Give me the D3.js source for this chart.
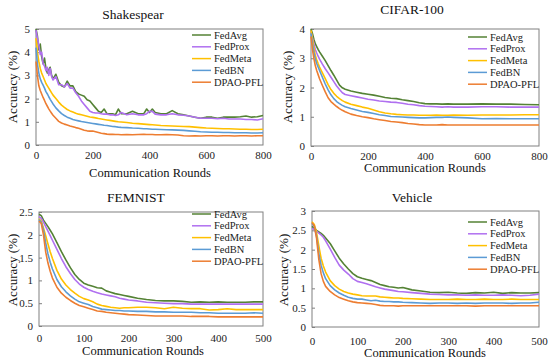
<!DOCTYPE html>
<html>
<head>
<meta charset="utf-8">
<script src="https://cdn.jsdelivr.net/npm/d3@7"></script>
<style>
  body { margin: 0; background: #fff; }
  svg { display: block; font-family: "Liberation Serif", "DejaVu Serif", serif; }
</style>
</head>
<body>
<svg id="chart" width="550" height="363"></svg>
<script>
const methods = ["FedAvg", "FedProx", "FedMeta", "FedBN", "DPAO-PFL"];
const colors = ["#548235", "#b070f0", "#ffc000", "#5b9bd5", "#ed7d31"];

// Shakespear
const shakeRounds = [0,5,10,15,20,25,30,35,40,45,50,55,60,70,80,90,100,110,120,130,140,150,160,170,180,190,200,210,220,230,240,250,260,270,280,290,300,320,340,360,380,390,400,410,420,440,460,480,500,520,540,560,580,600,620,640,660,680,700,720,740,760,780,800];
const shakeFedAvg = [5.0,4.7,4.1,4.35,3.8,3.5,3.75,3.3,3.1,3.25,3.35,3.0,2.85,3.05,2.7,2.55,2.5,2.75,2.55,2.55,2.3,2.2,2.15,2.1,1.95,1.9,1.75,1.6,1.45,1.4,1.55,1.35,1.35,1.35,1.3,1.55,1.35,1.35,1.45,1.35,1.35,1.55,1.4,1.55,1.4,1.35,1.35,1.48,1.35,1.3,1.25,1.2,1.15,1.2,1.2,1.15,1.2,1.2,1.2,1.22,1.25,1.2,1.22,1.27];
const shakeFedProx = [4.95,4.6,4.3,3.9,4.0,3.5,3.4,3.2,3.35,3.0,3.3,2.95,2.8,2.95,2.6,2.6,2.5,2.65,2.45,2.45,2.25,2.1,1.9,1.75,1.6,1.45,1.4,1.38,1.38,1.35,1.33,1.33,1.3,1.3,1.27,1.3,1.4,1.3,1.35,1.3,1.3,1.35,1.45,1.45,1.33,1.3,1.3,1.35,1.3,1.28,1.25,1.2,1.15,1.15,1.15,1.13,1.15,1.12,1.12,1.12,1.1,1.1,1.08,1.13];
const shakeFedMeta = [4.6,4.0,3.6,3.3,3.1,2.95,2.8,2.65,2.55,2.45,2.35,2.25,2.15,2.0,1.85,1.72,1.62,1.53,1.47,1.42,1.37,1.33,1.3,1.27,1.24,1.21,1.19,1.17,1.14,1.12,1.1,1.08,1.06,1.04,1.02,1.0,0.99,0.97,0.94,0.92,0.9,0.89,0.88,0.87,0.86,0.84,0.83,0.82,0.81,0.8,0.79,0.77,0.75,0.73,0.72,0.71,0.7,0.7,0.69,0.68,0.68,0.67,0.67,0.68];
const shakeFedBN = [4.2,3.5,3.1,2.85,2.7,2.58,2.45,2.3,2.2,2.08,1.97,1.87,1.77,1.6,1.47,1.35,1.27,1.2,1.15,1.1,1.07,1.04,1.01,0.99,0.97,0.95,0.93,0.91,0.89,0.87,0.85,0.84,0.82,0.8,0.79,0.77,0.76,0.75,0.73,0.72,0.7,0.7,0.69,0.68,0.68,0.67,0.66,0.65,0.64,0.63,0.61,0.59,0.57,0.56,0.55,0.55,0.54,0.54,0.53,0.53,0.53,0.52,0.52,0.53];
const shakeDPAO = [3.6,3.0,2.55,2.35,2.2,2.05,1.92,1.78,1.67,1.56,1.46,1.37,1.28,1.15,1.02,0.95,0.9,0.86,0.82,0.79,0.75,0.72,0.68,0.64,0.61,0.6,0.6,0.57,0.54,0.51,0.49,0.47,0.46,0.46,0.45,0.45,0.44,0.45,0.44,0.45,0.46,0.45,0.45,0.45,0.44,0.44,0.45,0.44,0.43,0.4,0.39,0.4,0.39,0.4,0.4,0.39,0.4,0.4,0.39,0.4,0.4,0.39,0.4,0.4];

// CIFAR-100
const cifarRounds = [0,5,10,15,20,25,30,40,50,60,70,80,90,100,110,120,140,160,180,200,220,240,260,280,300,320,340,360,380,400,420,440,460,480,500,550,600,650,700,750,800];
const cifarFedAvg = [4.0,3.85,3.65,3.5,3.4,3.3,3.22,3.07,2.92,2.75,2.58,2.42,2.25,2.08,1.99,1.94,1.88,1.84,1.8,1.77,1.74,1.7,1.66,1.63,1.62,1.58,1.55,1.52,1.48,1.45,1.44,1.44,1.43,1.44,1.43,1.43,1.44,1.43,1.43,1.42,1.41];
const cifarFedProx = [3.9,3.7,3.5,3.3,3.18,3.07,2.97,2.8,2.64,2.5,2.35,2.2,2.05,1.93,1.82,1.76,1.72,1.68,1.64,1.6,1.57,1.54,1.52,1.5,1.49,1.46,1.43,1.41,1.38,1.36,1.35,1.34,1.33,1.34,1.33,1.33,1.34,1.34,1.33,1.33,1.33];
const cifarFedMeta = [3.95,3.65,3.35,3.1,2.95,2.82,2.7,2.5,2.3,2.1,1.93,1.8,1.7,1.62,1.55,1.5,1.43,1.38,1.33,1.29,1.23,1.17,1.13,1.1,1.08,1.07,1.06,1.06,1.05,1.05,1.05,1.06,1.05,1.05,1.06,1.05,1.06,1.06,1.06,1.07,1.07];
const cifarFedBN = [3.85,3.5,3.2,2.98,2.82,2.7,2.58,2.35,2.12,1.92,1.75,1.62,1.52,1.45,1.39,1.34,1.28,1.23,1.18,1.15,1.11,1.07,1.04,1.01,1.0,0.99,0.98,0.97,0.96,0.96,0.97,0.98,0.98,0.99,0.98,0.96,0.93,0.94,0.93,0.93,0.93];
const cifarDPAO = [3.75,3.3,3.0,2.75,2.58,2.44,2.3,2.07,1.85,1.65,1.52,1.43,1.35,1.28,1.22,1.17,1.09,1.04,1.0,0.97,0.93,0.9,0.87,0.84,0.82,0.8,0.77,0.75,0.73,0.72,0.72,0.72,0.73,0.72,0.72,0.72,0.72,0.72,0.72,0.72,0.72];

// FEMNIST
const femRounds = [0,5,10,15,20,25,30,40,50,60,70,80,90,100,110,120,130,140,150,160,170,180,190,200,220,240,260,280,300,320,340,360,380,400,420,440,460,480,500];
const femFedAvg = [2.45,2.42,2.32,2.25,2.18,2.1,2.02,1.83,1.63,1.45,1.28,1.13,1.02,0.94,0.9,0.87,0.84,0.83,0.77,0.74,0.71,0.69,0.67,0.65,0.61,0.58,0.56,0.55,0.55,0.54,0.52,0.53,0.52,0.53,0.52,0.52,0.52,0.53,0.53];
const femFedProx = [2.4,2.36,2.28,2.18,2.08,1.98,1.88,1.68,1.48,1.3,1.15,1.02,0.92,0.85,0.8,0.76,0.73,0.7,0.68,0.66,0.64,0.61,0.59,0.57,0.55,0.52,0.51,0.5,0.49,0.49,0.48,0.48,0.48,0.48,0.48,0.48,0.48,0.48,0.48];
const femFedMeta = [2.35,2.3,2.15,1.98,1.8,1.63,1.48,1.22,1.03,0.9,0.8,0.72,0.65,0.6,0.57,0.53,0.48,0.45,0.43,0.41,0.4,0.39,0.4,0.4,0.41,0.41,0.4,0.38,0.41,0.39,0.38,0.38,0.35,0.36,0.38,0.36,0.36,0.36,0.36];
const femFedBN = [2.33,2.28,2.1,1.82,1.58,1.4,1.25,1.02,0.86,0.75,0.66,0.59,0.53,0.5,0.47,0.43,0.4,0.37,0.36,0.35,0.34,0.34,0.33,0.33,0.32,0.32,0.31,0.31,0.3,0.3,0.3,0.29,0.29,0.28,0.28,0.28,0.28,0.29,0.28];
const femDPAO = [2.3,2.25,2.0,1.62,1.38,1.2,1.05,0.85,0.72,0.63,0.56,0.5,0.45,0.42,0.39,0.36,0.33,0.32,0.3,0.29,0.28,0.27,0.26,0.25,0.24,0.23,0.22,0.22,0.22,0.22,0.21,0.21,0.21,0.2,0.2,0.2,0.2,0.2,0.2];

// Vehicle
const vehRounds = femRounds;
const vehFedAvg = [2.6,2.55,2.5,2.46,2.42,2.37,2.3,2.16,1.97,1.78,1.63,1.5,1.38,1.3,1.26,1.23,1.2,1.15,1.1,1.07,1.04,1.03,1.01,1.02,0.96,0.93,0.9,0.89,0.9,0.88,0.87,0.89,0.88,0.9,0.87,0.89,0.88,0.88,0.89];
const vehFedProx = [2.55,2.52,2.48,2.43,2.38,2.32,2.23,2.02,1.8,1.6,1.47,1.37,1.25,1.18,1.15,1.12,1.08,1.04,1.01,0.98,0.96,0.94,0.92,0.91,0.89,0.87,0.85,0.84,0.83,0.83,0.82,0.83,0.82,0.82,0.83,0.82,0.81,0.82,0.85];
const vehFedMeta = [2.72,2.65,2.45,2.1,1.78,1.58,1.42,1.2,1.07,0.98,0.92,0.88,0.85,0.83,0.81,0.8,0.8,0.8,0.78,0.77,0.76,0.75,0.75,0.74,0.73,0.72,0.71,0.71,0.71,0.72,0.71,0.71,0.72,0.71,0.71,0.72,0.71,0.71,0.71];
const vehFedBN = [2.68,2.6,2.35,1.9,1.6,1.4,1.25,1.07,0.96,0.88,0.82,0.77,0.74,0.72,0.72,0.7,0.68,0.69,0.67,0.66,0.66,0.65,0.65,0.64,0.63,0.62,0.61,0.62,0.62,0.61,0.62,0.61,0.62,0.62,0.62,0.61,0.62,0.62,0.64];
const vehDPAO = [2.7,2.62,2.3,1.75,1.38,1.18,1.05,0.92,0.83,0.76,0.72,0.68,0.65,0.63,0.62,0.61,0.6,0.58,0.56,0.55,0.55,0.55,0.54,0.55,0.55,0.55,0.55,0.55,0.55,0.55,0.55,0.54,0.55,0.55,0.55,0.55,0.55,0.55,0.55];

// layout per panel: plot box, title / axis-label anchors, tick padding, legend origin
const panels = [
  { title: "Shakespear", rounds: shakeRounds, series: [shakeFedAvg, shakeFedProx, shakeFedMeta, shakeFedBN, shakeDPAO],
    xMax: 800, xTicks: [0,200,400,600,800], yMax: 5, yTicks: [0,1,2,3,4,5],
    box: [36, 29, 263, 145], titleXY: [133, 19], xLab: [150, 177], yLab: [12, 87], xPad: 6, legend: [192, 35] },
  { title: "CIFAR-100", rounds: cifarRounds, series: [cifarFedAvg, cifarFedProx, cifarFedMeta, cifarFedBN, cifarDPAO],
    xMax: 800, xTicks: [0,200,400,600,800], yMax: 4, yTicks: [0,1,2,3,4],
    box: [311, 29, 539, 146], titleXY: [412, 14], xLab: [425, 172], yLab: [287, 87], xPad: 6, legend: [468, 37] },
  { title: "FEMNIST", rounds: femRounds, series: [femFedAvg, femFedProx, femFedMeta, femFedBN, femDPAO],
    xMax: 500, xTicks: [0,100,200,300,400,500], yMax: 2.5, yTicks: [0,0.5,1,1.5,2,2.5],
    box: [39, 212, 263, 326], titleXY: [136, 202], xLab: [143, 355], yLab: [12, 270], xPad: 8, legend: [192, 214] },
  { title: "Vehicle", rounds: vehRounds, series: [vehFedAvg, vehFedProx, vehFedMeta, vehFedBN, vehDPAO],
    xMax: 500, xTicks: [0,100,200,300,400,500], yMax: 3, yTicks: [0,0.5,1,1.5,2,2.5,3],
    box: [312, 211, 539, 327], titleXY: [412, 202], xLab: [425, 357], yLab: [283, 270], xPad: 10, legend: [468, 222] }
];

const svg = d3.select("#chart");

panels.forEach(p => {
  const [x0, y0, x1, y1] = p.box;
  const x = d3.scaleLinear().domain([0, p.xMax]).range([x0, x1]);
  const y = d3.scaleLinear().domain([0, p.yMax]).range([y1, y0]);
  const g = svg.append("g");

  // frame
  g.append("rect")
    .attr("x", x0).attr("y", y0)
    .attr("width", x1 - x0).attr("height", y1 - y0)
    .attr("fill", "none").attr("stroke", "#808080").attr("stroke-width", 1);

  // axes
  const yAxis = g.append("g").attr("transform", `translate(${x0},0)`)
    .call(d3.axisLeft(y).tickValues(p.yTicks).tickSize(-3).tickPadding(6).tickFormat(d3.format("")));
  const xAxis = g.append("g").attr("transform", `translate(0,${y1})`)
    .call(d3.axisBottom(x).tickValues(p.xTicks).tickSize(0).tickPadding(p.xPad));
  [yAxis, xAxis].forEach(a => {
    a.select(".domain").remove();
    a.selectAll("line").attr("stroke", "#808080");
    a.selectAll("text").attr("font-family", "Liberation Serif").attr("font-size", 11).attr("fill", "#222");
  });

  // lines
  const line = d3.line()
    .x((d, i) => x(p.rounds[i]))
    .y(d => y(d));
  p.series.forEach((vals, k) => {
    g.append("path")
      .datum(vals)
      .attr("d", line)
      .attr("fill", "none")
      .attr("stroke", colors[k])
      .attr("stroke-width", 1.6)
      .attr("stroke-linejoin", "round");
  });

  // titles
  g.append("text").attr("x", p.titleXY[0]).attr("y", p.titleXY[1])
    .attr("text-anchor", "middle").attr("font-size", 13.5).attr("fill", "#111").text(p.title);
  g.append("text").attr("x", p.xLab[0]).attr("y", p.xLab[1])
    .attr("text-anchor", "middle").attr("font-size", 12.5).attr("fill", "#111").text("Communication Rounds");
  g.append("text")
    .attr("transform", `translate(${p.yLab[0]},${p.yLab[1]}) rotate(-90)`)
    .attr("text-anchor", "middle").attr("dy", "0.35em").attr("font-size", 13).attr("fill", "#111").text("Accuracy (%)");

  // legend
  const lg = g.append("g").attr("transform", `translate(${p.legend[0]},${p.legend[1]})`);
  methods.forEach((m, k) => {
    const row = lg.append("g").attr("transform", `translate(0,${k * 11.8})`);
    row.append("line").attr("x1", 0).attr("x2", 19).attr("y1", 0).attr("y2", 0)
      .attr("stroke", colors[k]).attr("stroke-width", 1.5);
    row.append("text").attr("x", 22).attr("dy", "0.35em")
      .attr("font-size", 10.5).attr("fill", "#222").text(m);
  });
});
</script>
</body>
</html>
